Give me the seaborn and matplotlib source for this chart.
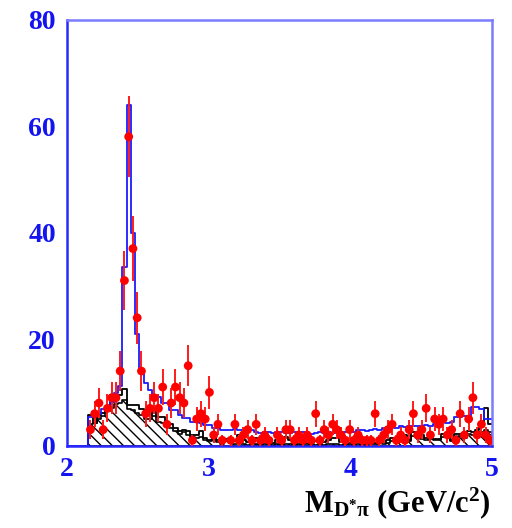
import numpy as np
import pandas as pd
import matplotlib
matplotlib.use("Agg")
import matplotlib.pyplot as plt
import seaborn as sns

# D*pi invariant mass, 100 bins of 30 MeV between 2.0 and 5.0 GeV/c^2
mass_lo, mass_hi, n_bins = 2.0, 5.0, 100

# observed candidates per bin
data_counts = [
    0, 0, 0, 0, 0, 3, 6, 8, 3, 7,
    9, 9, 14, 31, 58, 37, 24, 14, 6, 7,
    9, 7, 11, 4, 8, 11, 9, 8, 15, 1,
    5, 6, 5, 10, 2, 4, 1, 0, 1, 4,
    1, 2, 3, 1, 4, 1, 2, 1, 0, 2,
    1, 3, 3, 1, 2, 1, 2, 1, 6, 1,
    3, 2, 4, 3, 2, 1, 3, 1, 2, 1,
    1, 1, 6, 1, 2, 3, 4, 1, 2, 1,
    3, 6, 2, 3, 7, 2, 5, 4, 5, 2,
    3, 1, 6, 2, 5, 9, 2, 4, 2, 1,
]

# total fit (signal + background)
fit_total = [
    0, 0, 0, 0, 0, 5.3, 5.5, 6.0, 6.8, 7.3,
    8.2, 9.8, 11.2, 33.5, 64.0, 40.0, 21.0, 13.6, 11.7, 10.5,
    9.5, 9.2, 8.0, 8.0, 6.7, 6.7, 5.7, 5.1, 5.1, 4.5,
    4.5, 4.3, 3.9, 3.9, 3.3, 3.3, 3.0, 2.9, 2.9, 3.2,
    2.9, 2.9, 2.7, 3.0, 2.6, 2.4, 2.6, 2.6, 2.3, 2.5,
    2.6, 2.4, 2.3, 2.5, 2.3, 2.6, 2.4, 2.2, 2.3, 2.5,
    2.3, 2.5, 2.3, 2.6, 2.4, 2.6, 2.7, 2.6, 2.9, 3.0,
    2.8, 3.0, 3.2, 2.9, 3.3, 3.0, 3.5, 3.4, 3.7, 3.5,
    3.7, 3.6, 3.7, 3.6, 3.8, 3.6, 4.0, 4.2, 5.4, 4.2,
    4.5, 5.4, 5.3, 5.5, 5.4, 7.2, 7.2, 6.8, 5.0, 5.0,
]

# background estimate (open histogram)
bkg_open = [
    0, 0, 0, 0, 0, 5.7, 4.2, 5.8, 6.1, 7.3,
    8.2, 9.2, 9.5, 10.6, 7.6, 7.6, 7.6, 6.9, 6.3, 5.8,
    6.5, 5.3, 5.3, 4.5, 4.0, 3.3, 2.7, 3.0, 2.7, 2.0,
    2.0, 2.7, 1.4, 1.0, 1.8, 1.0, 0.6, 1.2, 1.5, 0.8,
    2.0, 1.0, 0.7, 1.5, 1.5, 0.6, 0.8, 1.3, 0.5, 1.0,
    0.6, 1.6, 1.0, 0.5, 1.2, 0.7, 0.5, 1.0, 0.8, 1.5,
    0.6, 1.0, 1.4, 1.4, 0.7, 1.2, 0.5, 0.8, 1.6, 0.6,
    0.6, 1.0, 0.5, 1.3, 0.7, 1.0, 1.5, 1.0, 1.8, 2.0,
    1.0, 2.5, 2.0, 2.0, 1.5, 1.5, 1.3, 1.3, 2.2, 2.2,
    1.0, 2.2, 2.2, 1.8, 2.8, 2.6, 3.0, 3.8, 7.0, 4.0,
]

# combinatorial component (hatched histogram)
bkg_hatched = [
    0, 0, 0, 0, 0, 4.0, 4.2, 5.0, 5.5, 6.5,
    7.0, 7.8, 8.0, 8.5, 6.8, 6.6, 6.2, 5.8, 5.0, 5.0,
    5.5, 4.5, 4.2, 3.8, 3.3, 2.8, 2.2, 2.5, 2.0, 1.6,
    1.4, 1.6, 1.0, 0.8, 1.2, 0.6, 0.3, 0.8, 0.8, 0.4,
    0.5, 0.3, 0.2, 0.6, 0.4, 0.2, 0.3, 0.5, 0.2, 0.3,
    0.2, 0.4, 0.3, 0.2, 0.3, 0.2, 0.1, 0.3, 0.2, 0.4,
    0.2, 0.3, 0.4, 0.3, 0.2, 0.3, 0.2, 0.3, 0.4, 0.2,
    0.3, 0.4, 0.3, 0.6, 0.4, 0.5, 0.8, 0.6, 1.0, 1.2,
    0.8, 1.8, 1.5, 1.2, 1.0, 1.2, 1.0, 1.0, 1.6, 1.8,
    0.8, 1.6, 1.8, 1.4, 2.2, 2.0, 2.4, 2.6, 3.0, 2.5,
]

y_ticks = [0, 20, 40, 60, 80]
x_ticks = [2, 3, 4, 5]

width = (mass_hi - mass_lo) / n_bins
centers = mass_lo + width * (np.arange(n_bins) + 0.5)
df = pd.DataFrame({
    "mass": centers,
    "data": data_counts,
    "fit": fit_total,
    "bkg": bkg_open,
    "comb": bkg_hatched,
})

sns.set_style("white")
plt.rcParams["font.family"] = ["Liberation Serif", "DejaVu Serif"]
plt.rcParams["font.weight"] = "bold"
plt.rcParams["mathtext.fontset"] = "custom"
plt.rcParams["mathtext.rm"] = "Liberation Serif:bold"
plt.rcParams["mathtext.bf"] = "Liberation Serif:bold"
plt.rcParams["mathtext.it"] = "Liberation Serif:bold"
plt.rcParams["mathtext.default"] = "bf"
plt.rcParams["hatch.linewidth"] = 1.0
plt.rcParams["hatch.color"] = "black"

fig = plt.figure(figsize=(5.12, 5.28), dpi=100)
ax = fig.add_axes([0.131, 0.156, 0.830, 0.807])

hist_kw = dict(x="mass", bins=n_bins, binrange=(mass_lo, mass_hi),
               element="step", ax=ax)

# hatched combinatorial background
sns.histplot(data=df, weights="comb", fill=True, facecolor="white",
             edgecolor="black", hatch="\\\\\\", linewidth=1.2, alpha=1.0,
             **hist_kw)
# open background histogram
sns.histplot(data=df, weights="bkg", fill=False, color="black",
             linewidth=1.3, **hist_kw)
# total fit
sns.histplot(data=df, weights="fit", fill=False, color="#1a1aff",
             linewidth=1.3, **hist_kw)

# data points with Poisson errors
pts = df[df["data"] > 0]
ax.errorbar(pts["mass"], pts["data"], yerr=np.sqrt(pts["data"]), fmt="none",
            ecolor="#ff1a1a", elinewidth=1.4, capsize=0, zorder=5)
sns.scatterplot(data=pts, x="mass", y="data", color="#ff0000", s=40,
                edgecolor="none", linewidth=0, zorder=6, ax=ax)

ax.set_xlim(mass_lo, mass_hi)
ax.set_ylim(0, 80)
ax.set_xticks(x_ticks)
ax.set_xticklabels([str(t) for t in x_ticks])
ax.set_yticks(y_ticks)
ax.set_yticklabels([str(t) for t in y_ticks])
ax.set_yticks([10, 30, 50, 70], minor=True)
ax.set_xlabel("")
ax.set_ylabel("")

blue = "#1414f0"
ax.tick_params(axis="both", which="both", direction="in", colors=blue,
               labelcolor=blue, labelsize=20, width=1.5)
ax.tick_params(axis="y", which="major", length=8, pad=8)
ax.tick_params(axis="y", which="minor", length=4)
ax.tick_params(axis="x", which="major", length=5, pad=8)
for lab in ax.get_xticklabels() + ax.get_yticklabels():
    lab.set_fontweight("bold")

for side in ["left", "bottom"]:
    ax.spines[side].set_color("#2a2aff")
    ax.spines[side].set_linewidth(1.8)
for side in ["top", "right"]:
    ax.spines[side].set_color("#7c7cff")
    ax.spines[side].set_linewidth(1.8)

fig.text(0.958, 0.014, r"$\mathbf{M_{D^{*}\pi}}$ (GeV/c$^{\mathbf{2}}$)",
         ha="right", va="bottom", fontsize=22, fontweight="bold", color="black")

fig.savefig("out.png", dpi=100)
